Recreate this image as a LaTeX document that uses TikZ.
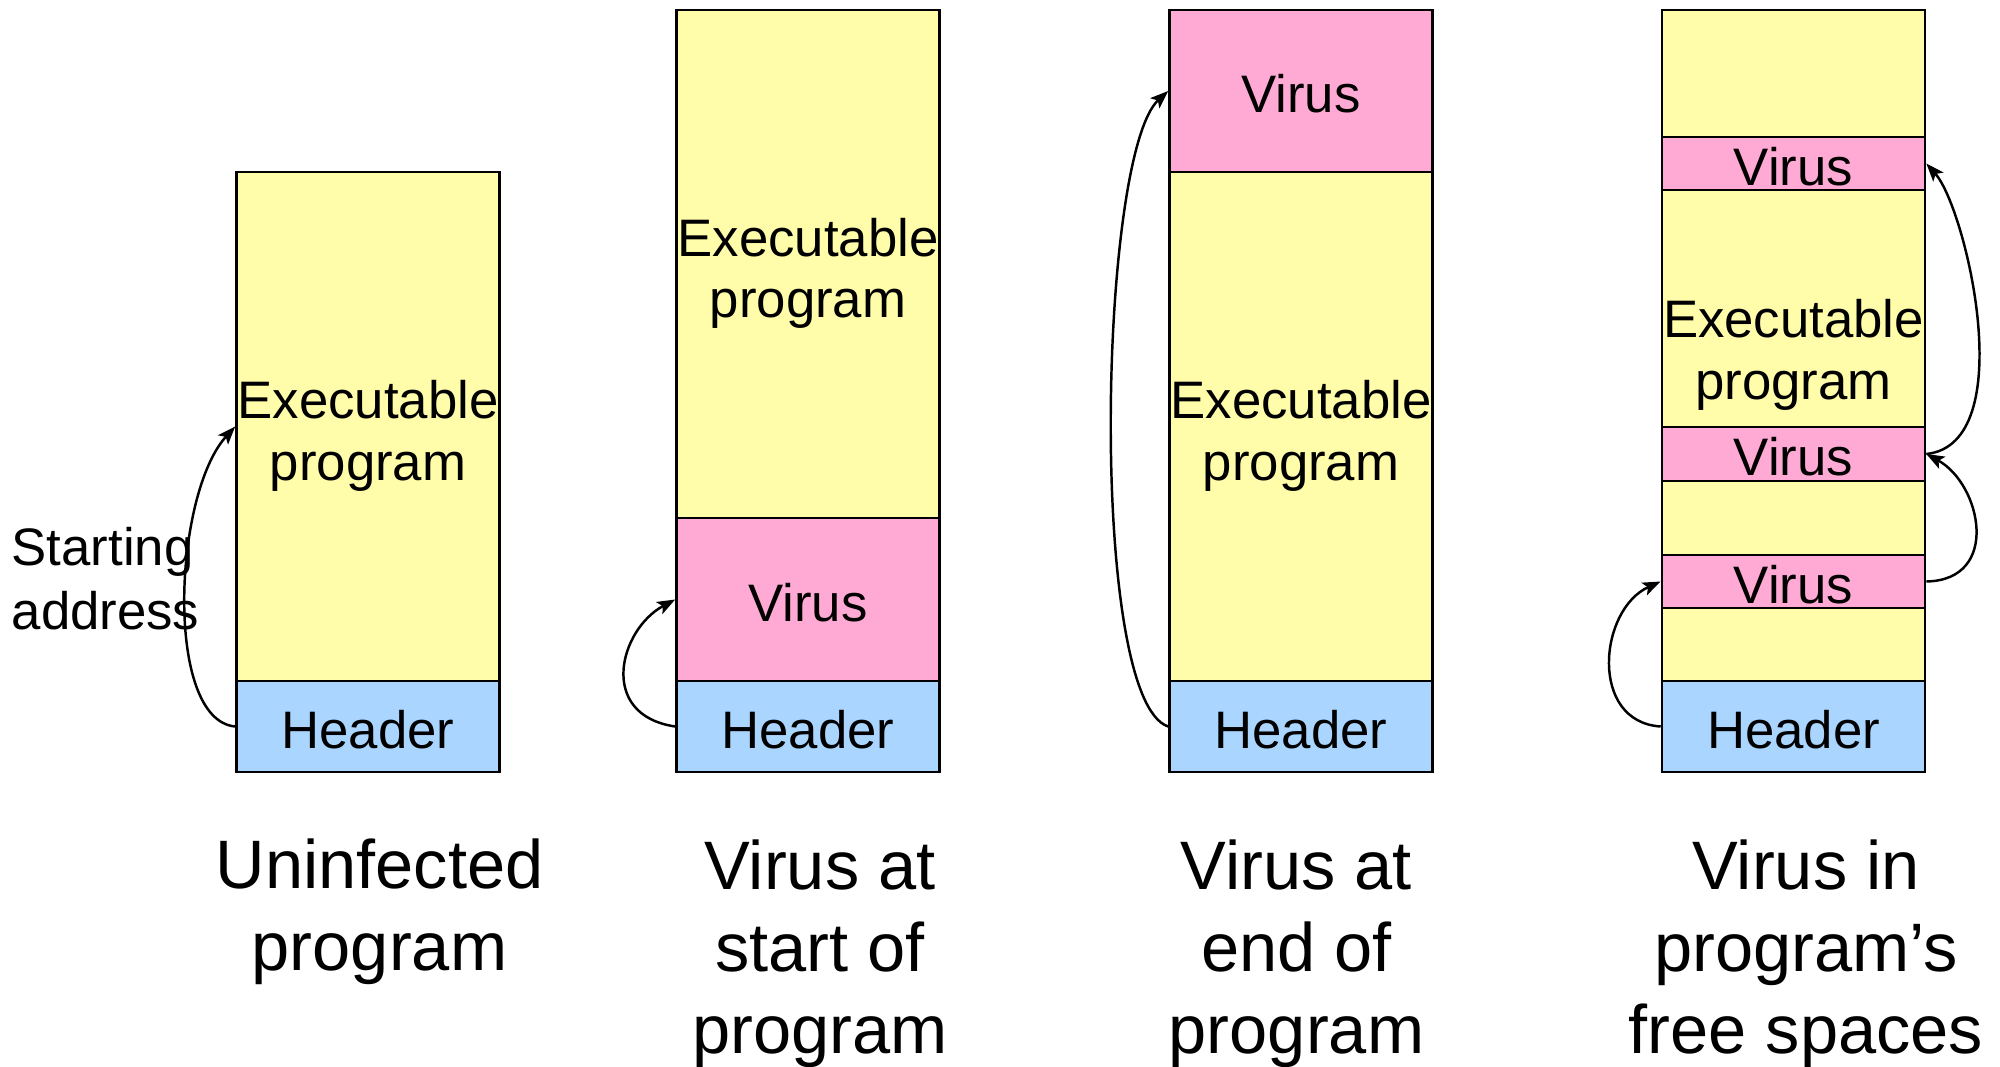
\documentclass[tikz,border=0pt]{standalone}
\usepackage{fontspec}
\setmainfont{Liberation Sans}
\usetikzlibrary{arrows.meta}
\definecolor{yel}{HTML}{FFFCAA}
\definecolor{pnk}{HTML}{FFAAD4}
\definecolor{blu}{HTML}{AAD5FF}
\begin{document}
\begin{tikzpicture}[x=0.01cm, y=-0.01cm,
  seg/.style={draw=black, line width=0.7pt, inner sep=0pt, minimum width=2.63cm,
    font=\fontsize{15}{17.5}\selectfont, text height=12.5pt, text depth=0pt},
  exe/.style={seg, fill=yel},
  vir/.style={seg, fill=pnk},
  hdr/.style={seg, fill=blu, minimum height=0.91cm},
  txt/.style={font=\fontsize{15}{17.5}\selectfont, inner sep=0pt, align=center},
  captxt/.style={font=\fontsize{19.5}{23.3}\selectfont, inner sep=0pt, align=center, anchor=north},
  link/.style={line width=0.7pt, -{Stealth[length=1.8mm,width=1.35mm,inset=0.4mm]}}
]
\useasboundingbox (0,0) rectangle (2000,1067);
% column 1: uninfected
\node[exe, minimum height=5.09cm] (c1exe) at (368,426.5) {};
\node[hdr] (c1hdr) at (368,726.5) {Header};
\node[txt, anchor=north] (c1et) at (368,379.8) {Executable\\program};
\node[txt, align=left, anchor=north west, font=\fontsize{15}{18}\selectfont] (start) at (11,527) {Starting\\address};
% column 2: virus at start
\node[exe, minimum height=5.08cm] (c2exe) at (808,264) {};
\node[vir, minimum height=1.63cm] (c2vir) at (808,599.5) {Virus};
\node[hdr] (c2hdr) at (808,726.5) {Header};
\node[txt, anchor=north] (c2et) at (808,217.3) {Executable\\program};
% column 3: virus at end
\node[vir, minimum height=1.62cm] (c3vir) at (1301,91) {Virus};
\node[exe, minimum height=5.09cm] (c3exe) at (1301,426.5) {};
\node[hdr] (c3hdr) at (1301,726.5) {Header};
\node[txt, anchor=north] (c3et) at (1301,379.8) {Executable\\program};
% column 4: virus in free spaces
\node[exe, minimum height=6.71cm] (c4exe) at (1793.5,345.5) {};
\node[txt, anchor=north] (c4et) at (1793.5,298.8) {Executable\\program};
\node[vir, minimum height=0.53cm] (c4v1) at (1793.5,163.5) {Virus};
\node[vir, minimum height=0.54cm] (c4v2) at (1793.5,454) {Virus};
\node[vir, minimum height=0.53cm] (c4v3) at (1793.5,581.5) {Virus};
\node[hdr] (c4hdr) at (1793.5,726.5) {Header};
% captions
\node[captxt] (cap1) at (379.5,838.5) {Uninfected\\program};
\node[captxt] (cap2) at (820,839) {Virus at\\start of\\program};
\node[captxt] (cap3) at (1296.5,839) {Virus at\\end of\\program};
\node[captxt] (cap4) at (1806,839) {Virus in\\program’s\\free spaces};
% connectors
\draw[link] (c1hdr.west) .. controls +(-71,-6.5) and +(-62,68) .. (c1exe.west);
\draw[link] (c2hdr.west) .. controls +(-78,-11.5) and +(-56,30) .. (c2vir.west);
\draw[link] (c3hdr.west) .. controls +(-80,-26.5) and +(-70,64) .. (c3vir.west);
\draw[link] (c4hdr.west) .. controls +(-72,-4.5) and +(-62,28) .. (c4v3.west);
\draw[link] (c4v3.east) .. controls +(75,-1.5) and +(55,30) .. (c4v2.east);
\draw[link] (c4v2.east) .. controls +(95,-10) and +(40,45) .. (c4v1.east);
\end{tikzpicture}
\end{document}
